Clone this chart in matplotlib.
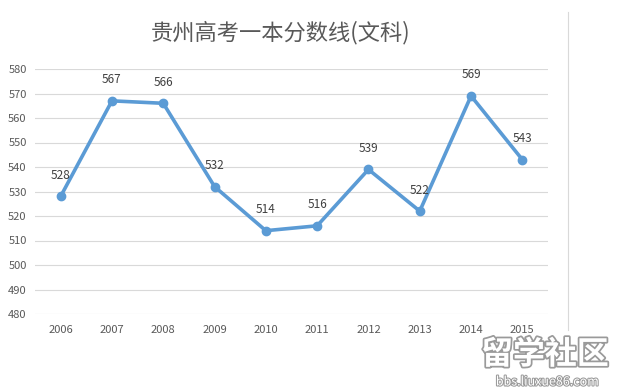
import matplotlib
matplotlib.use("Agg")
import matplotlib.pyplot as plt
import matplotlib.patheffects as pe

plt.rcParams['font.family'] = ['Noto Sans CJK SC', 'DejaVu Sans']

years = ["2006", "2007", "2008", "2009", "2010", "2011", "2012", "2013", "2014", "2015"]
scores = [528, 567, 566, 532, 514, 516, 539, 522, 569, 543]
yticks = [480, 490, 500, 510, 520, 530, 540, 550, 560, 570, 580]
title = "贵州高考一本分数线(文科)"

fig = plt.figure(figsize=(6.27, 3.91), dpi=100)
ax = fig.add_axes([35/627, 1-314/391, (548-35)/627, (314-69)/391])

x = list(range(len(years)))
ax.plot(x, scores, color="#5B9BD5", lw=2.6, marker="o", ms=6, zorder=3)
for xi, v in zip(x, scores):
    ax.annotate(str(v), (xi, v), xytext=(0, 10.5), textcoords="offset points",
                ha="center", va="bottom", fontsize=8.5, color="#404040")

ax.set_xlim(-0.5, len(years) - 0.5)
ax.set_ylim(480, 580)
ax.set_yticks(yticks)
ax.set_xticks(x)
ax.set_xticklabels(years)
ax.grid(axis="y", color="#D9D9D9", lw=0.8)
ax.set_axisbelow(True)
for s in ax.spines.values():
    s.set_visible(False)
ax.tick_params(length=0, labelsize=8, labelcolor="#595959")
ax.tick_params(axis="x", pad=8)
ax.tick_params(axis="y", pad=6)

fig.text(281/627, 1-33/391, title, ha="center", va="center", fontsize=16, color="#595959")

# right border line
fig.add_artist(plt.Line2D([568/627, 568/627], [1-12/391, 1-330/391], color="#D9D9D9", lw=0.8))

# watermark
fig.text(545/627, 1-355/391, "留学社区", ha="center", va="center", fontsize=23, color="white",
         fontweight="bold", path_effects=[pe.withStroke(linewidth=2.5, foreground="#9a9a9a")])
fig.text(547/627, 1-382/391, "bbs.liuxue86.com", ha="center", va="center", fontsize=9, color="white",
         path_effects=[pe.withStroke(linewidth=1.5, foreground="#9a9a9a")])

fig.savefig("out.png", dpi=100)
